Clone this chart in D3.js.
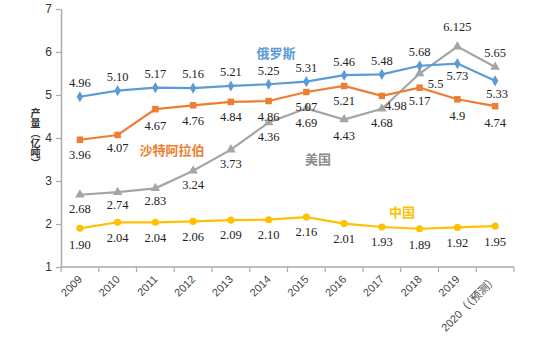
<!DOCTYPE html>
<html lang="zh">
<head>
<meta charset="UTF-8">
<title>产量</title>
<script src="https://cdnjs.cloudflare.com/ajax/libs/d3/7.8.5/d3.min.js"></script>
<style>
  body { margin: 0; background: #fff; }
  #chart { position: relative; width: 550px; height: 338px; }
  svg { display: block; }
  .val { font-family: "Liberation Serif", "Times New Roman", serif; font-size: 12.5px; fill: #222; }
  .name { font-family: "Noto Sans CJK SC", sans-serif; font-size: 13px; font-weight: bold; }
  #ytitle {
    position: absolute; left: 29px; top: 108px;
    writing-mode: vertical-rl; text-orientation: upright;
    font-family: "Noto Sans CJK SC", sans-serif; font-size: 10px; font-weight: bold;
    line-height: 12px; color: #333;
  }
</style>
</head>
<body>
<div id="chart"></div>
<script>
  const years = ["2009","2010","2011","2012","2013","2014","2015","2016","2017","2018","2019","2020（（预测）"];
  const russia = [4.96, 5.10, 5.17, 5.16, 5.21, 5.25, 5.31, 5.46, 5.48, 5.68, 5.73, 5.33];
  const saudi  = [3.96, 4.07, 4.67, 4.76, 4.84, 4.86, 5.07, 5.21, 4.98, 5.17, 4.9, 4.74];
  const usa    = [2.68, 2.74, 2.83, 3.24, 3.73, 4.36, 4.69, 4.43, 4.68, 5.5, 6.125, 5.65];
  const china  = [1.90, 2.04, 2.04, 2.06, 2.09, 2.10, 2.16, 2.01, 1.93, 1.89, 1.92, 1.95];
  const russiaText = ["4.96","5.10","5.17","5.16","5.21","5.25","5.31","5.46","5.48","5.68","5.73","5.33"];
  const saudiText  = ["3.96","4.07","4.67","4.76","4.84","4.86","5.07","5.21","4.98","5.17","4.9","4.74"];
  const usaText    = ["2.68","2.74","2.83","3.24","3.73","4.36","4.69","4.43","4.68","5.5","6.125","5.65"];
  const chinaText  = ["1.90","2.04","2.04","2.06","2.09","2.10","2.16","2.01","1.93","1.89","1.92","1.95"];
  const yTicks = [1, 2, 3, 4, 5, 6, 7];

  const width = 550, height = 338;
  const svg = d3.select("#chart").append("svg").attr("width", width).attr("height", height);

  const x = d3.scaleBand().domain(years).range([61, 514]);
  const y = d3.scaleLinear().domain([1, 7]).range([267, 9]);
  const cx = d => x(d) + x.bandwidth() / 2;

  // y axis
  const yAxis = svg.append("g").attr("transform", "translate(61,0)")
      .call(d3.axisLeft(y).tickValues(yTicks).tickFormat(d3.format("d"))
        .tickSize(5).tickPadding(4).tickSizeOuter(0));
  yAxis.select(".domain").attr("stroke", "#aaa").attr("stroke-width", 1.5);
  yAxis.selectAll(".tick line").attr("stroke", "#aaa").attr("stroke-width", 1.2);
  yAxis.selectAll(".tick text")
      .style("font-family", "'Liberation Sans', Arial, sans-serif")
      .style("font-size", "12px").attr("fill", "#333");

  // x axis: ticks between categories
  const xAxis = svg.append("g").attr("transform", "translate(0,267)");
  xAxis.append("line").attr("x1", 61).attr("x2", 514).attr("stroke", "#aaa").attr("stroke-width", 1.5);
  const bounds = years.map(d => x(d)).concat([x.range()[1]]);
  xAxis.selectAll("line.tk").data(bounds).join("line").attr("class", "tk")
      .attr("x1", d => d).attr("x2", d => d).attr("y1", 0).attr("y2", 5)
      .attr("stroke", "#aaa").attr("stroke-width", 1.2);
  xAxis.selectAll("text").data(years).join("text")
      .attr("transform", d => `translate(${cx(d) + 3},${13}) rotate(-45)`)
      .attr("text-anchor", "end")
      .style("font-family", "'Liberation Sans', Arial, 'Noto Sans CJK SC', sans-serif")
      .style("font-size", "11px").attr("fill", "#444")
      .text(d => d);

  // y axis title (vertical)
  d3.select("#chart").append("div").attr("id", "ytitle").text("产量（亿吨）");

  const series = [
    { values: usa, text: usaText, color: "#a5a5a5", shape: d3.symbolTriangle, size: 40,
      dx: [0,0,0,0,0,0,0,0,0,16,0,0], dy: [14,12,12,14,14,14,14,16,14,10,-20,-14] },
    { values: saudi, text: saudiText, color: "#ed7d31", shape: d3.symbolSquare, size: 42,
      dx: [0,0,0,0,0,0,0,0,14,0,0,0], dy: [15,13,16,15,15,16,15,15,10,13,16,16] },
    { values: russia, text: russiaText, color: "#5b9bd5", shape: d3.symbolDiamond, size: 36,
      dx: [0,0,0,0,0,0,0,0,0,0,0,2], dy: [-14,-14,-14,-14,-14,-14,-14,-14,-14,-14,12,13] },
    { values: china, text: chinaText, color: "#ffc000", shape: d3.symbolCircle, size: 40,
      dx: [0,0,0,0,0,0,0,0,0,0,0,0], dy: [16,15,15,15,14,15,15,15,15,16,15,15] }
  ];

  const line = d3.line().x((d, i) => cx(years[i])).y(d => y(d));

  series.forEach(s => {
    svg.append("path").datum(s.values)
        .attr("d", line).attr("fill", "none")
        .attr("stroke", s.color).attr("stroke-width", 2.2);
    svg.append("g").selectAll("path").data(s.values).join("path")
        .attr("transform", (d, i) => `translate(${cx(years[i])},${y(d)})`)
        .attr("d", d3.symbol().type(s.shape).size(s.size))
        .attr("fill", s.color);
  });

  series.forEach(s => {
    svg.append("g").selectAll("text").data(s.values).join("text")
        .attr("class", "val")
        .attr("x", (d, i) => cx(years[i]) + s.dx[i])
        .attr("y", (d, i) => y(d) + s.dy[i])
        .attr("dy", "0.35em")
        .attr("text-anchor", "middle")
        .text((d, i) => s.text[i]);
  });

  // series names
  const names = [
    { t: "俄罗斯", c: "#5b9bd5", x: 276, y: 53 },
    { t: "沙特阿拉伯", c: "#ed7d31", x: 172, y: 150 },
    { t: "美国", c: "#8c8c8c", x: 318, y: 159 },
    { t: "中国", c: "#ffc000", x: 402, y: 212 }
  ];
  svg.selectAll("text.name").data(names).join("text")
      .attr("class", "name")
      .attr("x", d => d.x).attr("y", d => d.y).attr("dy", "0.35em")
      .attr("text-anchor", "middle")
      .attr("fill", d => d.c)
      .text(d => d.t);
</script>
</body>
</html>
